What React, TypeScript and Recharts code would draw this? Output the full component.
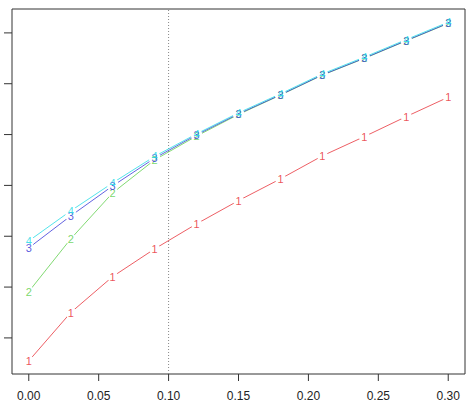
import React from "react";
import { LineChart, Line, XAxis, YAxis, ReferenceLine, ReferenceArea } from "recharts";

// x positions shared by all series
const xValues = [0, 0.03, 0.06, 0.09, 0.12, 0.15, 0.18, 0.21, 0.24, 0.27, 0.3];

// y values (axis has ticks but no labels)
const series1 = [0.548, 1.498, 2.206, 2.751, 3.243, 3.701, 4.128, 4.581, 4.96, 5.354, 5.735];
const series2 = [1.911, 2.948, 3.853, 4.502, 4.97, 5.395, 5.776, 6.169, 6.498, 6.844, 7.186];
const series3 = [2.771, 3.4, 3.99, 4.535, 4.994, 5.407, 5.781, 6.174, 6.503, 6.849, 7.191];
const series4 = [2.908, 3.499, 4.049, 4.571, 5.014, 5.427, 5.801, 6.194, 6.523, 6.869, 7.211];

const seriesLabels = ["1", "2", "3", "4"];
const seriesKeys = ["s1", "s2", "s3", "s4"];
const colors = ["#E8363D", "#61D04F", "#3C3CD8", "#28DCE6"];

const xTicks = [0, 0.05, 0.1, 0.15, 0.2, 0.25, 0.3];
const yTicks = [1, 2, 3, 4, 5, 6, 7];

const X_DOMAIN: [number, number] = [-0.012, 0.312];
const Y_DOMAIN: [number, number] = [0.29, 7.47];

const data = xValues.map((x, i) => ({
  x,
  s1: series1[i],
  s2: series2[i],
  s3: series3[i],
  s4: series4[i],
}));

const FONT = "'Liberation Sans', Arial, Helvetica, sans-serif";
const W = 469;
const H = 407;
const MARGIN = { top: 9, right: 4, bottom: 0, left: 0 };
const X_AXIS_H = 33;
const Y_AXIS_W = 12;
const PLOT_BOTTOM = H - MARGIN.bottom - X_AXIS_H;
const PLOT_LEFT = MARGIN.left + Y_AXIS_W;
const AXIS_COLOR = "#333";

// R style ticks: short outward lines, labels below
const XTick = (props: any) => {
  const { x, payload } = props;
  return (
    <g>
      <line x1={x} x2={x} y1={PLOT_BOTTOM} y2={PLOT_BOTTOM + 7} stroke={AXIS_COLOR} />
      <text
        x={x}
        y={PLOT_BOTTOM + 22}
        textAnchor="middle"
        dominantBaseline="central"
        fontSize={12}
        fontFamily={FONT}
        fill="#222"
      >
        {Number(payload.value).toFixed(2)}
      </text>
    </g>
  );
};

const YTick = (props: any) => {
  const { y } = props;
  return <line x1={PLOT_LEFT - 8} x2={PLOT_LEFT} y1={y} y2={y} stroke={AXIS_COLOR} />;
};

// white knockout behind the point labels, like R's type = "b"
const gapDot = (props: any) => {
  const { cx, cy, index } = props;
  if (cx == null || cy == null) return <g key={`g-${index}`} />;
  return <circle key={`g-${index}`} cx={cx} cy={cy} r={5.5} fill="#fff" stroke="none" />;
};

const labelDot = (label: string, color: string) => (props: any) => {
  const { cx, cy, index } = props;
  if (cx == null || cy == null) return <g key={`t-${index}`} />;
  return (
    <text
      key={`t-${index}`}
      x={cx}
      y={cy}
      textAnchor="middle"
      dominantBaseline="central"
      fontSize={11}
      fontFamily={FONT}
      fill={color}
      fillOpacity={0.85}
    >
      {label}
    </text>
  );
};

export default function App() {
  return (
    <div>
      <style>{"body{margin:0}"}</style>
      <LineChart width={W} height={H} data={data} margin={MARGIN} style={{ fontFamily: FONT }}>
        <XAxis
          type="number"
          dataKey="x"
          domain={X_DOMAIN}
          ticks={xTicks}
          allowDataOverflow
          height={X_AXIS_H}
          axisLine={false}
          tickLine={false}
          tick={XTick}
        />
        <YAxis
          type="number"
          domain={Y_DOMAIN}
          ticks={yTicks}
          allowDataOverflow
          width={Y_AXIS_W}
          axisLine={false}
          tickLine={false}
          tick={YTick}
        />
        <ReferenceArea
          x1={X_DOMAIN[0]}
          x2={X_DOMAIN[1]}
          y1={Y_DOMAIN[0]}
          y2={Y_DOMAIN[1]}
          fill="none"
          stroke={AXIS_COLOR}
          strokeWidth={1}
          ifOverflow="visible"
        />
        <ReferenceLine x={0.1} stroke="#888" strokeDasharray="1 2" />

        {/* lines */}
        {seriesKeys.map((k, i) => (
          <Line
            key={`line-${k}`}
            dataKey={k}
            stroke={colors[i]}
            strokeWidth={1}
            strokeOpacity={0.8}
            dot={false}
            activeDot={false}
            isAnimationActive={false}
            legendType="none"
          />
        ))}

        {/* gaps around the points */}
        {seriesKeys.map((k) => (
          <Line
            key={`gap-${k}`}
            dataKey={k}
            stroke="none"
            dot={gapDot}
            activeDot={false}
            isAnimationActive={false}
            legendType="none"
          />
        ))}

        {/* point labels */}
        {seriesKeys.map((k, i) => (
          <Line
            key={`lab-${k}`}
            dataKey={k}
            stroke="none"
            dot={labelDot(seriesLabels[i], colors[i])}
            activeDot={false}
            isAnimationActive={false}
            legendType="none"
          />
        ))}
      </LineChart>
    </div>
  );
}
